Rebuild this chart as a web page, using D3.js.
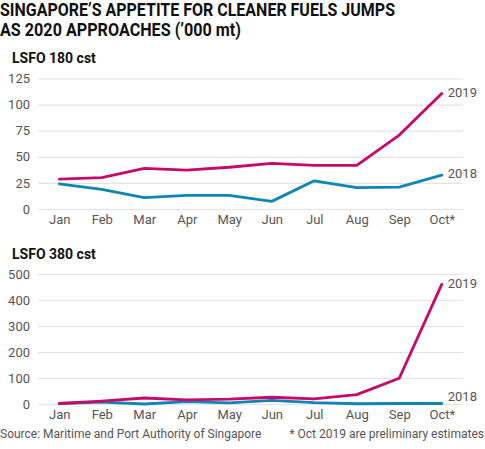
<!DOCTYPE html>
<html><head><meta charset="utf-8">
<script src="https://cdn.jsdelivr.net/npm/d3@7"></script>
<style>
body{margin:0;background:#fff;}
svg{display:block;font-family:Roboto,"Noto Sans",sans-serif;}
</style></head>
<body><svg id="c" width="485" height="449"></svg>
<script>
const months = ["Jan","Feb","Mar","Apr","May","Jun","Jul","Aug","Sep","Oct*"];
const seriesNames = ["2018","2019"];
// LSFO 180 cst ('000 mt)
const lsfo180_2018 = [24, 18.8, 10.8, 13, 13, 7.3, 27, 20.4, 21, 32.5];
const lsfo180_2019 = [28.7, 30, 39, 37.3, 40, 43.7, 41.8, 41.8, 70.8, 110.7];
// LSFO 380 cst ('000 mt)
const lsfo380_2018 = [2, 7, 0, 9, 4, 14, 5, 1, 2, 2];
const lsfo380_2019 = [2, 11, 23, 16, 19, 26, 20, 36, 99, 460];
const ticks180 = [0, 25, 50, 75, 100, 125];
const ticks380 = [0, 100, 200, 300, 400, 500];

const colors = {"2018": "#0f86b6", "2019": "#c8096c"};
const svg = d3.select("#c");

// Title
const title = svg.append("text").attr("font-weight", 700).attr("font-size", 18).attr("fill", "#111");
title.append("tspan").attr("x", 0).attr("y", 16).attr("textLength", 395).attr("lengthAdjust", "spacingAndGlyphs")
  .text("SINGAPORE\u2019S APPETITE FOR CLEANER FUELS JUMPS");
title.append("tspan").attr("x", 0).attr("y", 35.5).attr("textLength", 241).attr("lengthAdjust", "spacingAndGlyphs")
  .text("AS 2020 APPROACHES (\u2019000 mt)");

const x = d3.scalePoint().domain(months).range([38, 463]).padding(0.5);

function panel(opts) {
  const {label, labelY, ticks, yRange, s2018, s2019, lbl2018dy, lbl2019dy} = opts;
  const y = d3.scaleLinear().domain([ticks[0], ticks[ticks.length - 1]]).range(yRange);
  const g = svg.append("g");
  g.append("text").attr("x", 12).attr("y", labelY).attr("font-weight", 700).attr("font-size", 14)
    .attr("fill", "#111").text(label);

  // grid
  const yAxis = d3.axisLeft(y).tickValues(ticks).tickSize(-(463 - 38)).tickPadding(8).tickFormat(d3.format("d"));
  const ga = g.append("g").attr("transform", "translate(38,0)").call(yAxis);
  ga.select(".domain").remove();
  ga.selectAll(".tick line").attr("stroke", "#e3e3e3").attr("stroke-width", 1.2);
  ga.selectAll(".tick text").attr("font-size", 13).attr("fill", "#555").attr("font-family", "Roboto,sans-serif");

  const xAxis = d3.axisBottom(x).tickSize(0).tickPadding(6);
  const gx = g.append("g").attr("transform", `translate(0,${yRange[0]})`).call(xAxis);
  gx.select(".domain").remove();
  gx.selectAll(".tick text").attr("font-size", 13).attr("fill", "#555").attr("font-family", "Roboto,sans-serif");

  const line = d3.line().x((d, i) => x(months[i])).y(d => y(d));
  const data = {"2018": s2018, "2019": s2019};
  const dy = {"2018": lbl2018dy, "2019": lbl2019dy};
  seriesNames.forEach(name => {
    g.append("path").datum(data[name]).attr("d", line).attr("fill", "none")
      .attr("stroke", colors[name]).attr("stroke-width", 2.8)
      .attr("stroke-linejoin", "round").attr("stroke-linecap", "round");
    const last = data[name][data[name].length - 1];
    g.append("text").attr("x", x(months[months.length - 1]) + 6).attr("y", y(last) + dy[name])
      .attr("dy", "0.35em").attr("font-size", 13).attr("fill", "#555").text(name);
  });
}

panel({label: "LSFO 180 cst", labelY: 63, ticks: ticks180, yRange: [209, 78.5],
  s2018: lsfo180_2018, s2019: lsfo180_2019, lbl2018dy: -2, lbl2019dy: -0.5});
panel({label: "LSFO 380 cst", labelY: 259, ticks: ticks380, yRange: [404, 274],
  s2018: lsfo380_2018, s2019: lsfo380_2019, lbl2018dy: -7, lbl2019dy: -1});

svg.append("text").attr("x", 0).attr("y", 438).attr("font-size", 12).attr("fill", "#555")
  .text("Source: Maritime and Port Authority of Singapore");
svg.append("text").attr("x", 484).attr("y", 438).attr("text-anchor", "end").attr("font-size", 12).attr("fill", "#555")
  .text("* Oct 2019 are preliminary estimates");
</script></body></html>
